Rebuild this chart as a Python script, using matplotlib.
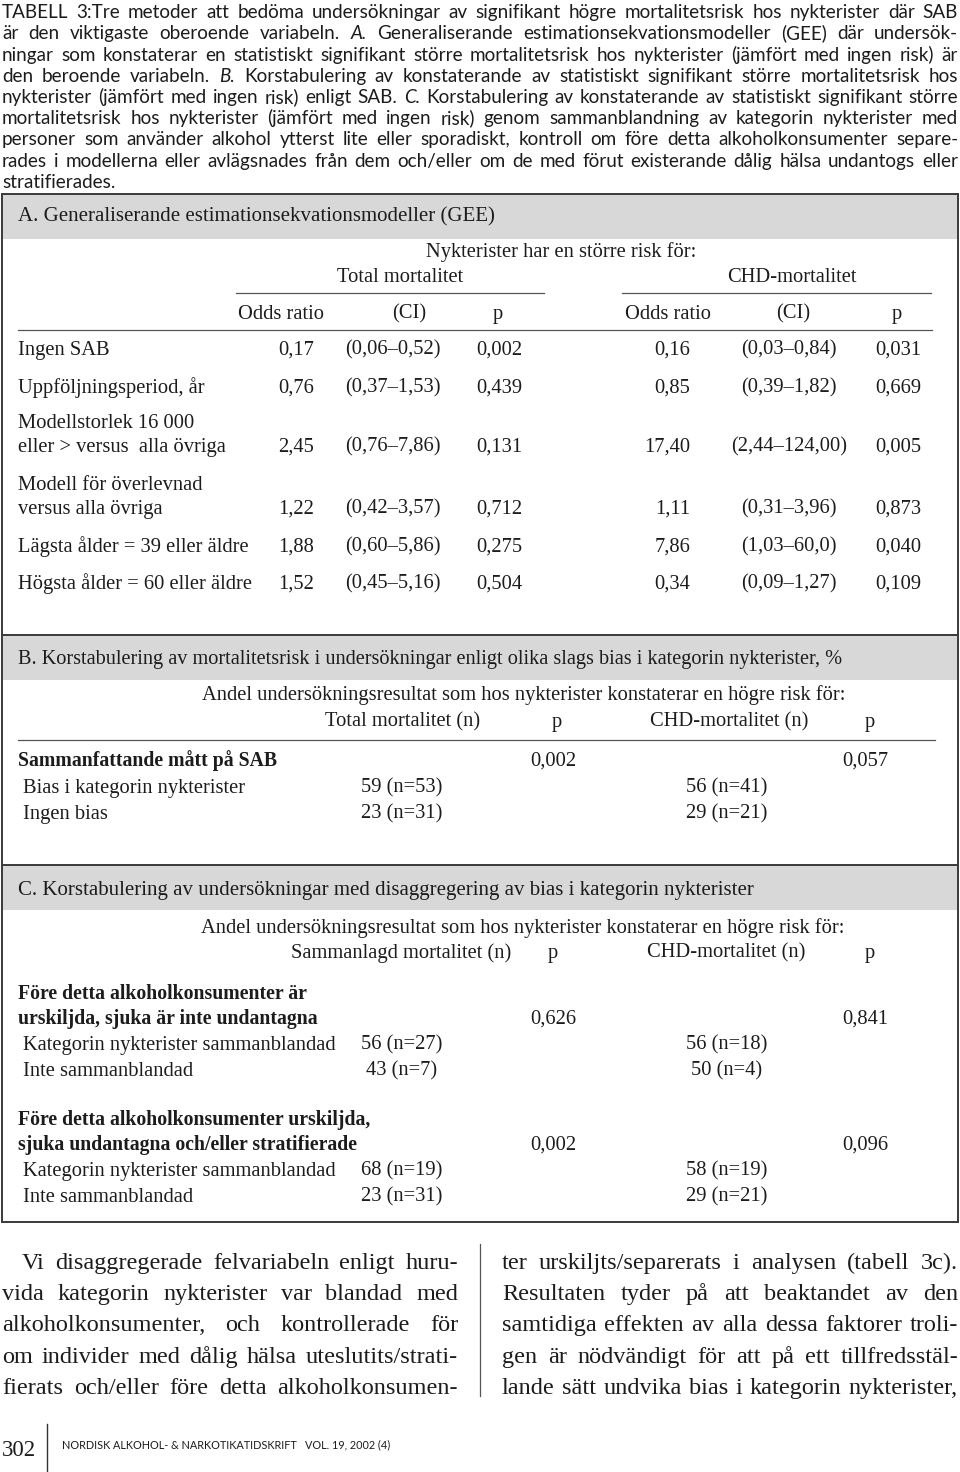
import matplotlib
matplotlib.use("Agg")
import matplotlib.pyplot as plt
from matplotlib import font_manager as fm
from matplotlib.patches import Rectangle

# ---------------- data ----------------
caption_lines = [
    "TABELL 3:Tre metoder att bedöma undersökningar av signifikant högre mortalitetsrisk hos nykterister där SAB",
    "är den viktigaste oberoende variabeln. *A. Generaliserande estimationsekvationsmodeller (GEE) där undersök-",
    "ningar som konstaterar en statistiskt signifikant större mortalitetsrisk hos nykterister (jämfört med ingen risk) är",
    "den beroende variabeln. *B. Korstabulering av konstaterande av statistiskt signifikant större mortalitetsrisk hos",
    "nykterister (jämfört med ingen risk) enligt SAB. *C. Korstabulering av konstaterande av statistiskt signifikant större",
    "mortalitetsrisk hos nykterister (jämfört med ingen risk) genom sammanblandning av kategorin nykterister med",
    "personer som använder alkohol ytterst lite eller sporadiskt, kontroll om före detta alkoholkonsumenter separe-",
    "rades i modellerna eller avlägsnades från dem och/eller om de med förut existerande dålig hälsa undantogs eller",
    "stratifierades.",
]

a_title = "A. Generaliserande estimationsekvationsmodeller (GEE)"
a_super = "Nykterister har en större risk för:"
a_groups = ["Total mortalitet", "CHD-mortalitet"]
a_cols = ["Odds ratio", "(CI)", "p"]
a_labels = ["Ingen SAB", "Uppföljningsperiod, år",
            "Modellstorlek 16 000\neller > versus  alla övriga",
            "Modell för överlevnad\nversus alla övriga",
            "Lägsta ålder = 39 eller äldre", "Högsta ålder = 60 eller äldre"]
a_or_total = ["0,17", "0,76", "2,45", "1,22", "1,88", "1,52"]
a_ci_total = ["(0,06–0,52)", "(0,37–1,53)", "(0,76–7,86)", "(0,42–3,57)", "(0,60–5,86)", "(0,45–5,16)"]
a_p_total = ["0,002", "0,439", "0,131", "0,712", "0,275", "0,504"]
a_or_chd = ["0,16", "0,85", "17,40", "1,11", "7,86", "0,34"]
a_ci_chd = ["(0,03–0,84)", "(0,39–1,82)", "(2,44–124,00)", "(0,31–3,96)", "(1,03–60,0)", "(0,09–1,27)"]
a_p_chd = ["0,031", "0,669", "0,005", "0,873", "0,040", "0,109"]

b_title = "B. Korstabulering av mortalitetsrisk i undersökningar enligt olika slags bias i kategorin nykterister, %"
b_super = "Andel undersökningsresultat som hos nykterister konstaterar en högre risk för:"
b_cols = ["Total mortalitet (n)", "p", "CHD-mortalitet (n)", "p"]
b_summary = "Sammanfattande mått på SAB"
b_p_total = "0,002"
b_p_chd = "0,057"
b_labels = ["Bias i kategorin nykterister", "Ingen bias"]
b_total = ["59 (n=53)", "23 (n=31)"]
b_chd = ["56 (n=41)", "29 (n=21)"]

c_title = "C. Korstabulering av undersökningar med disaggregering av bias i kategorin nykterister"
c_super = "Andel undersökningsresultat som hos nykterister konstaterar en högre risk för:"
c_cols = ["Sammanlagd mortalitet (n)", "p", "CHD-mortalitet (n)", "p"]
c_groups = ["Före detta alkoholkonsumenter är\nurskiljda, sjuka är inte undantagna",
            "Före detta alkoholkonsumenter urskiljda,\nsjuka undantagna och/eller stratifierade"]
c_p_total = ["0,626", "0,002"]
c_p_chd = ["0,841", "0,096"]
c_labels = ["Kategorin nykterister sammanblandad", "Inte sammanblandad"]
c_total = [["56 (n=27)", "43 (n=7)"], ["68 (n=19)", "23 (n=31)"]]
c_chd = [["56 (n=18)", "50 (n=4)"], ["58 (n=19)", "29 (n=21)"]]

body_left = [
    "Vi disaggregerade felvariabeln enligt huru-",
    "vida kategorin nykterister var blandad med",
    "alkoholkonsumenter, och kontrollerade för",
    "om individer med dålig hälsa uteslutits/strati-",
    "fierats och/eller före detta alkoholkonsumen-",
]
body_right = [
    "ter urskiljts/separerats i analysen (tabell 3c).",
    "Resultaten tyder på att beaktandet av den",
    "samtidiga effekten av alla dessa faktorer troli-",
    "gen är nödvändigt för att på ett tillfredsstäl-",
    "lande sätt undvika bias i kategorin nykterister,",
]
page_no = "302"
journal = "NORDISK ALKOHOL- & NARKOTIKATIDSKRIFT   VOL. 19, 2002 (4)"

# ---------------- fonts ----------------
avail = {f.name for f in fm.fontManager.ttflist}
SERIF = "Liberation Serif" if "Liberation Serif" in avail else "DejaVu Serif"
SANS = "Lato" if "Lato" in avail else "DejaVu Sans"
INK = "#1c1c1c"
TS = 14.8   # table text size (pt)

fig = plt.figure(figsize=(9.6, 14.72), dpi=100)
ax = fig.add_axes([0, 0, 1, 1])
ax.set_xlim(0, 960)
ax.set_ylim(1472, 0)
ax.axis("off")
renderer = fig.canvas.get_renderer()


def px(size):
    return size * 100 / 72.0


def txt(x, y, s, size=TS, family=SERIF, ha="left", weight="normal", style="normal", color=INK):
    # y is the visual middle of the line; convert to baseline
    return ax.text(x, y + 0.33 * px(size), s, fontsize=size, family=family, ha=ha, va="baseline",
                   fontweight=weight, fontstyle=style, color=color)


def width_of(s, size, family, style="normal"):
    t = ax.text(0, 0, s, fontsize=size, family=family, fontstyle=style)
    w = t.get_window_extent(renderer).width
    t.remove()
    return w


def natural_width(line, size, family):
    return width_of(line.replace("*", ""), size, family)


def fit_size(lines, width, family, ref=10.0, skip_last=False, slack=0.985):
    use = lines[:-1] if skip_last else lines
    ratio = min(width / natural_width(l, ref, family) for l in use)
    return ref * ratio * slack


def justify(line, x0, x1, y, size, family, last=False):
    words = line.split(" ")
    arts, widths = [], []
    base = y + 0.33 * px(size)
    for w in words:
        st = "normal"
        if w.startswith("*"):
            w = w[1:]
            st = "italic"
        t = ax.text(x0, base, w, fontsize=size, family=family, fontstyle=st,
                    ha="left", va="baseline", color=INK)
        arts.append(t)
        widths.append(t.get_window_extent(renderer).width)
    spw = width_of("a b", size, family) - width_of("ab", size, family)
    if last or len(words) == 1:
        gap = spw
    else:
        gap = (x1 - x0 - sum(widths)) / (len(words) - 1)
    x = x0
    for t, w in zip(arts, widths):
        t.set_x(x)
        x += w + gap


# ---------------- caption ----------------
cap_size = min(fit_size(caption_lines, 956, SANS, skip_last=True), 13.6)
for i, line in enumerate(caption_lines):
    justify(line, 2, 958, 12 + 21.2 * i, cap_size, SANS, last=(i == len(caption_lines) - 1))

# ---------------- table frame ----------------
GREY = "#d8d8d8"
FR = "#3a3a3a"
bands = [(194, 239), (635, 680), (865, 910)]
for top, bot in bands:
    ax.add_patch(Rectangle((2, top), 956, bot - top, facecolor=GREY, edgecolor="none", zorder=0))
    ax.plot([2, 958], [top, top], color=FR, lw=1.4, solid_capstyle="butt")
ax.plot([2, 958], [1222, 1222], color=FR, lw=1.4, solid_capstyle="butt")
ax.plot([2, 2], [194, 1222], color=FR, lw=1.4)
ax.plot([958, 958], [194, 1222], color=FR, lw=1.4)

# ---------------- section A ----------------
txt(18, 215, a_title, size=15.0)
txt(561, 250, a_super, ha="center")
txt(400, 275, a_groups[0], ha="center")
txt(792, 275, a_groups[1], ha="center")
ax.plot([236, 544], [293, 293], color="#555555", lw=0.9)
ax.plot([622, 931], [293, 293], color="#555555", lw=0.9)
head_x = [281, 409, 498, 668, 793, 897]
for x, s in zip(head_x, a_cols + a_cols):
    txt(x, 312, s, ha="center")
ax.plot([18, 932], [330, 330], color="#555555", lw=0.9)

row_y = [348, 386, 445, 507, 545, 582]
for i, y in enumerate(row_y):
    parts = a_labels[i].split("\n")
    for k, p in enumerate(reversed(parts)):
        txt(18, y - 24 * k, p)
    txt(314, y, a_or_total[i], ha="right")
    txt(393, y, a_ci_total[i], ha="center")
    txt(499, y, a_p_total[i], ha="center")
    txt(690, y, a_or_chd[i], ha="right")
    txt(789, y, a_ci_chd[i], ha="center")
    txt(898, y, a_p_chd[i], ha="center")

# ---------------- section B ----------------
txt(18, 657, b_title, size=14.55)
txt(524, 693, b_super, ha="center")
bx = [403, 557, 729, 870]
for x, s in zip(bx, b_cols):
    txt(x, 720, s, ha="center")
ax.plot([18, 935], [740, 740], color="#555555", lw=0.9)
txt(18, 759, b_summary, weight="bold", size=14.2)
txt(553, 759, b_p_total, ha="center")
txt(865, 759, b_p_chd, ha="center")
for i, y in enumerate([786, 812]):
    txt(23, y, b_labels[i])
    txt(402, y, b_total[i], ha="center")
    txt(727, y, b_chd[i], ha="center")

# ---------------- section C ----------------
txt(18, 888, c_title, size=15.0)
txt(523, 926, c_super, ha="center")
cx = [401, 553, 726, 870]
for x, s in zip(cx, c_cols):
    txt(x, 951, s, ha="center")
for g, gy in enumerate([1017, 1143]):
    l1, l2 = c_groups[g].split("\n")
    txt(18, gy - 25, l1, weight="bold", size=14.2)
    txt(18, gy, l2, weight="bold", size=14.2)
    txt(553, gy, c_p_total[g], ha="center")
    txt(865, gy, c_p_chd[g], ha="center")
    for i in range(2):
        y = gy + 26 + 26 * i
        txt(23, y, c_labels[i])
        txt(402, y, c_total[g][i], ha="center")
        txt(727, y, c_chd[g][i], ha="center")

# ---------------- body text ----------------
body_size = min(fit_size(body_left[1:] + body_right, 456, SERIF), 17.5)
for i, line in enumerate(body_left):
    x0 = 22 if i == 0 else 2
    justify(line, x0, 458, 1261 + 31.2 * i, body_size, SERIF)
for i, line in enumerate(body_right):
    justify(line, 502, 958, 1261 + 31.2 * i, body_size, SERIF)
ax.plot([480, 480], [1244, 1396], color="#555555", lw=0.9)

# ---------------- footer ----------------
txt(2, 1448, page_no, size=16.5)
ax.plot([47, 47], [1424, 1472], color="#333333", lw=1.0)
txt(62, 1445, journal, size=7.8, family=SANS)

fig.savefig("out.png", dpi=100)
